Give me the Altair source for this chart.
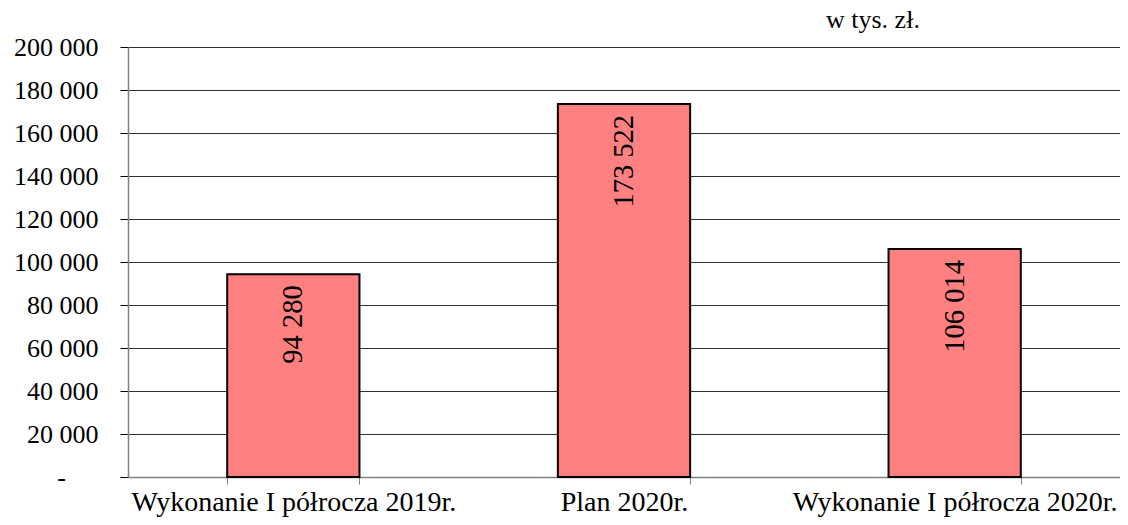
import altair as alt
import pandas as pd

categories = ["Wykonanie I półrocza 2019r.", "Plan 2020r.", "Wykonanie I półrocza 2020r."]
values = [94280, 173522, 106014]
y_ticks = [0, 20000, 40000, 60000, 80000, 100000, 120000, 140000, 160000, 180000, 200000]
unit_label = "w tys. zł."

df = pd.DataFrame({"cat": categories, "value": values})

FONT = "'Liberation Serif', 'Times New Roman', serif"

x_enc = alt.X(
    "cat:N",
    sort=categories,
    scale=alt.Scale(paddingInner=0.6, paddingOuter=0.3),
    axis=alt.Axis(
        title=None,
        labelAngle=0,
        labelLimit=0,
        tickBand="extent",
        tickSize=7,
        tickColor="#808080",
        domainColor="#808080",
        domainWidth=1.5,
        labelFont=FONT,
        labelFontSize=28,
        labelColor="black",
        labelPadding=4,
        grid=False,
    ),
)

y_enc = alt.Y(
    "value:Q",
    scale=alt.Scale(domain=[0, 200000], nice=False),
    axis=alt.Axis(
        title=None,
        values=y_ticks,
        labelExpr="datum.value == 0 ? '-\u00a0\u00a0\u00a0\u00a0\u00a0\u200b' : replace(format(datum.value, ','), ',', ' ')",
        grid=True,
        gridColor="#303030",
        gridWidth=1,
        tickSize=8,
        tickColor="black",
        domainColor="#808080",
        domainWidth=1.5,
        labelFont=FONT,
        labelFontSize=26,
        labelColor="black",
        labelPadding=22,
    ),
)

base = alt.Chart(df)

bars = base.mark_bar(color="#FF8080", stroke="black", strokeWidth=2).encode(x=x_enc, y=y_enc)

labels = base.transform_calculate(
    label="replace(format(datum.value, ','), ',', ' ')"
).mark_text(
    angle=270,
    align="right",
    baseline="middle",
    dx=-11,
    font=FONT,
    fontSize=28.5,
    color="black",
).encode(x=x_enc, y=y_enc, text="label:N")

unit = alt.Chart(pd.DataFrame({"t": [unit_label]})).mark_text(
    align="left",
    baseline="alphabetic",
    font=FONT,
    fontSize=26,
    color="black",
).encode(x=alt.value(698), y=alt.value(-19), text="t:N")

chart = (
    alt.layer(bars, labels, unit)
    .properties(
        width=992,
        height=430,
        autosize=alt.AutoSizeParams(type="none"),
        padding={"left": 120, "top": 39, "right": 0, "bottom": 40},
    )
    .configure_view(strokeWidth=0)
    .configure(background="white", font=FONT)
)

chart.save("out.html", embed_options={"renderer": "svg", "actions": False})
